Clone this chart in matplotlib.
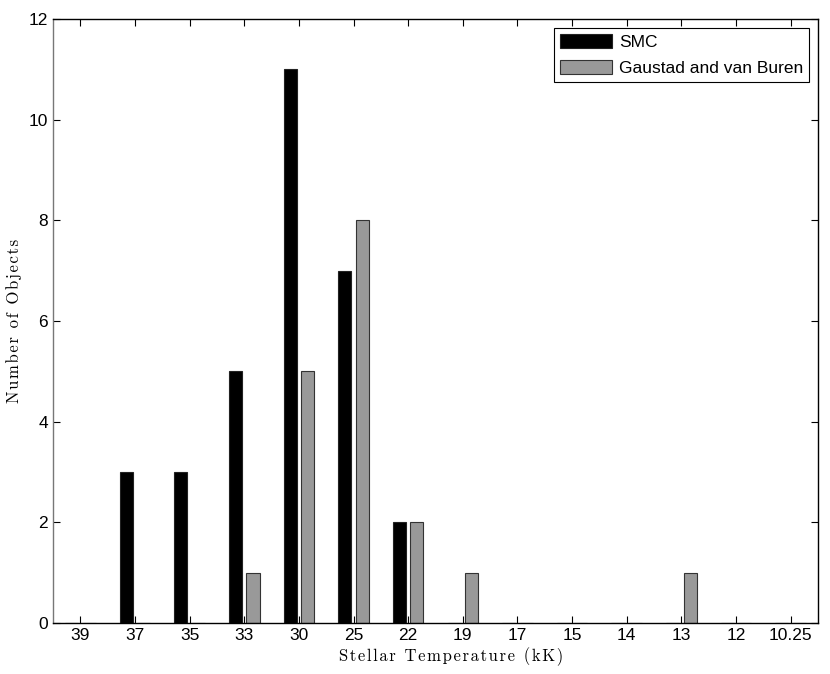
import matplotlib.pyplot as plt
import numpy as np

# temperature bins (kK) and object counts
temps = ['39', '37', '35', '33', '30', '25', '22', '19', '17', '15', '14', '13', '12', '10.25']
smc = [0, 3, 3, 5, 11, 7, 2, 0, 0, 0, 0, 0, 0, 0]
gaustad = [0, 0, 0, 1, 5, 8, 2, 1, 0, 0, 0, 1, 0, 0]

fig = plt.figure(figsize=(8.3, 6.74), dpi=100)
ax = fig.add_axes([53/830, 1 - 623/674, (818-53)/830, (623-19)/674])

x = np.arange(len(temps))
w = 0.24
ax.bar(x - 0.16, smc, w, color='black', edgecolor='#222222', linewidth=0.8, label='SMC')
ax.bar(x + 0.16, gaustad, w, color='#999999', edgecolor='#333333', linewidth=0.8,
       label='Gaustad and van Buren')

ax.set_xlim(-0.5, 13.5)
ax.set_ylim(0, 12)
ax.set_xticks(x)
ax.set_xticklabels(temps)
ax.set_yticks(range(0, 13, 2))
ax.tick_params(direction='in', top=True, right=True, length=5, labelsize=12.5, width=0.8)
for lbl in ax.get_xticklabels() + ax.get_yticklabels():
    lbl.set_family('Liberation Sans')
for s in ax.spines.values():
    s.set_linewidth(1.0)
ax.spines['left'].set_color('#777777')

# slightly letter-spaced serif labels (hair spaces)
hs = '\u200a'
xl = hs.join('Stellar Temperature (kK)')
yl = hs.join('Number of Objects')
ax.set_xlabel(xl, family=['cmr10', 'DejaVu Serif'], fontsize=12, va='center')
ax.xaxis.set_label_coords(0.52, -0.056)
ax.set_ylabel(yl, family=['cmr10', 'DejaVu Serif'], fontsize=12, labelpad=5)

leg = ax.legend(loc='upper right', prop={'family': 'Liberation Sans', 'size': 12.5},
                fancybox=False, framealpha=1, edgecolor='black', borderaxespad=0.5,
                handlelength=3.0, handleheight=0.9, borderpad=0.35, labelspacing=0.55,
                handletextpad=0.4)
leg.get_frame().set_linewidth(0.8)

fig.savefig('out.png', dpi=100)
